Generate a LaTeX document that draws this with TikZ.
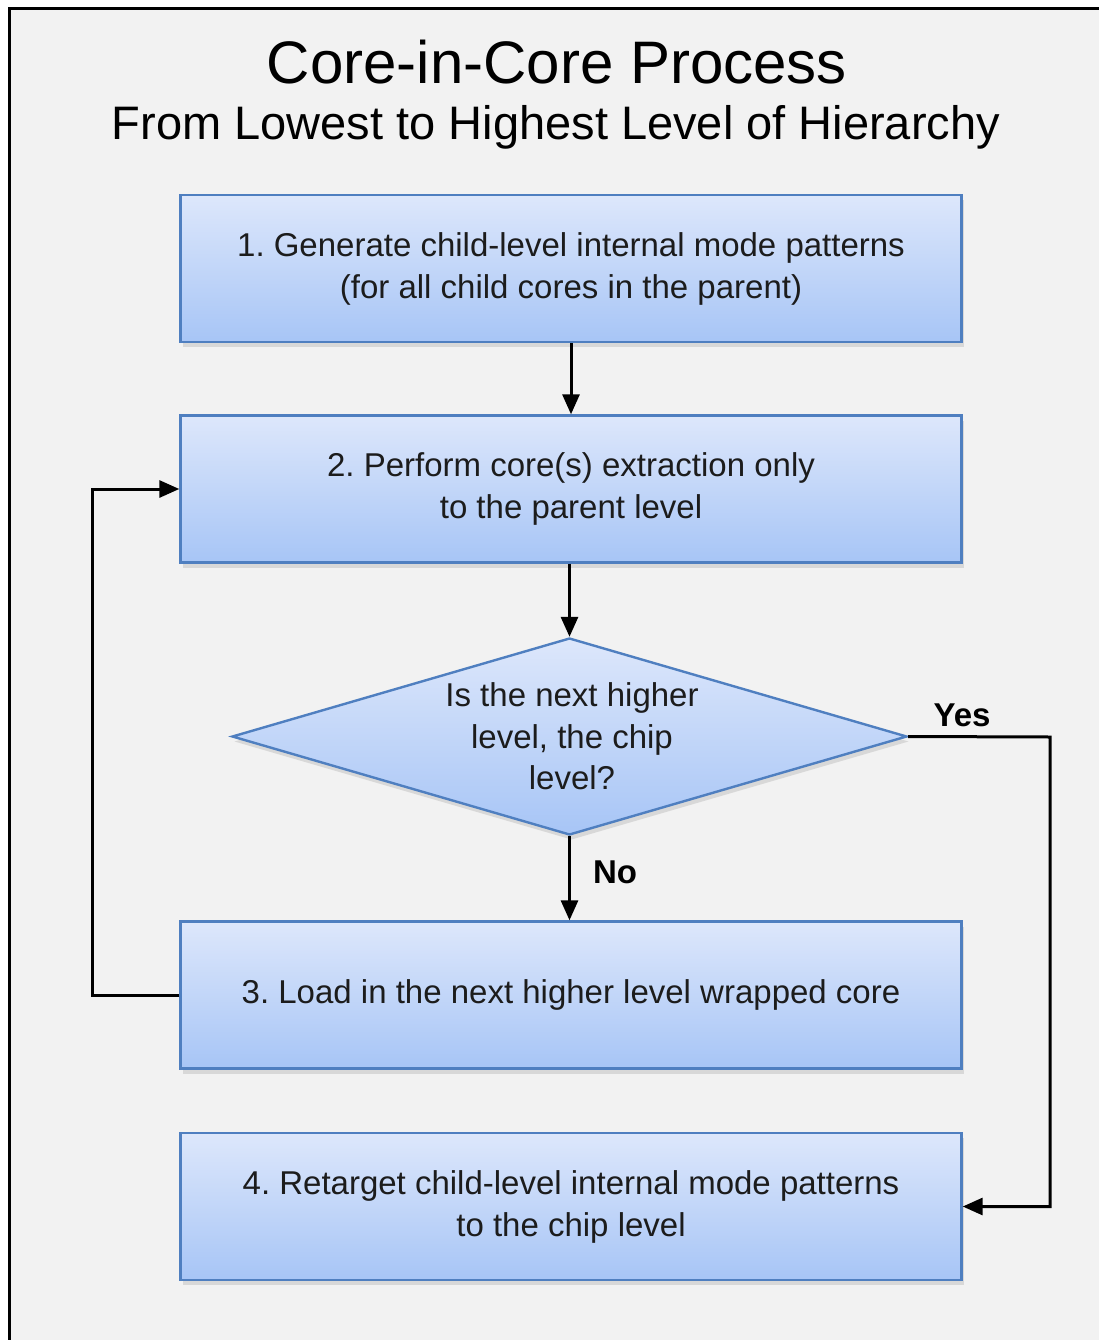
\documentclass[tikz,border=0pt]{standalone}
\usepackage{fontspec}
\setmainfont{Liberation Sans}
\usetikzlibrary{arrows.meta, shapes.geometric, shadows}
\definecolor{bggray}{HTML}{F2F2F2}
\definecolor{boxtop}{HTML}{DDE7FB}
\definecolor{boxbot}{HTML}{A7C5F6}
\definecolor{boxline}{HTML}{4F7FC0}
\definecolor{txt}{HTML}{1C1C1C}
\frenchspacing

\tikzset{
  stepbox/.style={rectangle, draw=boxline, line width=2.4pt,
    top color=boxtop, bottom color=boxbot,
    minimum width=781pt, minimum height=147pt, inner sep=0pt,
    align=center, text=txt, font=\fontsize{33}{42}\selectfont,
    drop shadow={shadow xshift=2pt, shadow yshift=-5pt, opacity=0.22}},
  decision/.style={diamond, draw=boxline, line width=2.4pt,
    top color=boxtop, bottom color=boxbot, inner sep=0pt,
    minimum width=675pt, minimum height=197pt,
    drop shadow={shadow xshift=2pt, shadow yshift=-5pt, opacity=0.22}},
  flow/.style={-{Triangle[length=20pt, width=17pt]}, line width=3pt},
  answer/.style={font=\fontsize{33}{40}\selectfont\bfseries}
}

\begin{document}
\begin{tikzpicture}[x=1pt, y=-1pt]
  \useasboundingbox (0,0) rectangle (1099,1340);
  % panel
  \fill[bggray] (9,9) rectangle (1099,1340);
  \draw[line width=3pt] (9,1345) -- (9,9) -- (1105,9);

  % headings
  \node (title) at (557,62) {\fontsize{60}{60}\selectfont Core-in-Core Process};
  \node (subtitle) at (556,127) {\fontsize{47}{47}\selectfont From Lowest to Highest Level of Hierarchy};

  % process steps
  \foreach \i/\y/\txt in {
      1/268.5/{1. Generate child-level internal mode patterns\\(for all child cores in the parent)},
      2/489/{2. Perform core(s) extraction only\\to the parent level},
      3/995/{3. Load in the next higher level wrapped core},
      4/1206.5/{4. Retarget child-level internal mode patterns\\to the chip level}}{
    \node[stepbox] (b\i) at (571,\y) {\txt};
  }

  % question
  \node[decision] (q) at (569.5,736.5) {};
  \node[align=center, text=txt, font=\fontsize{33}{41.5}\selectfont] (qtext)
    at (572,736.5) {Is the next higher\\level, the chip\\level?};

  \coordinate (yesturn) at (1050,737);
  \coordinate (loopturn) at (92,995);

  \draw[flow] (b1.south) -- (b1.south |- b2.north);
  \draw[flow] (b2.south -| q.north) -- (q.north);
  \draw[flow] (q.south) -- (q.south |- b3.north);
  \draw[flow] (q.east) -- (yesturn) |- (b4.east);
  \draw[flow] (b3.west) -- (loopturn) |- (b2.west);

  \node[answer] (yes) at (962,715) {Yes};
  \node[answer] (no) at (615,872) {No};
\end{tikzpicture}
\end{document}
